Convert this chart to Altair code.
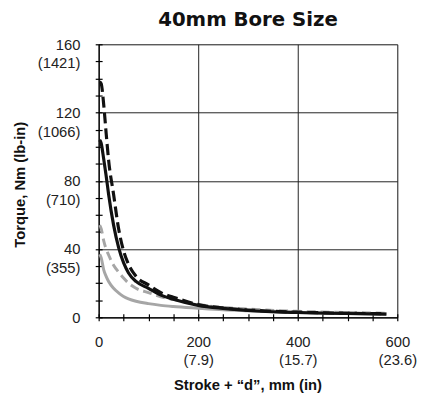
import altair as alt
import pandas as pd

# ---- data ----
stroke = [2, 5, 10, 15, 20, 30, 40, 50, 60, 75, 100, 125, 150, 200, 250, 300, 400, 500, 578]
black_dashed = [138, 137, 125, 108, 92, 72, 52, 39, 31, 24, 19, 14.5, 11.8, 7.5, 5.5, 4.3, 3.0, 2.4, 2.1]
black_solid = [104, 102, 93, 83, 72, 54, 41, 32, 26, 21, 17, 13, 10.6, 7.0, 5.2, 4.0, 2.8, 2.2, 1.9]
gray_dashed = [54, 52, 45, 40, 36.5, 30.5, 26.5, 23, 20, 17, 14.5, 12, 10.5, 7.5, 5.8, 4.8, 3.5, 2.8, 2.4]
gray_solid = [37, 35, 28, 24, 21, 17, 14.3, 12.2, 10.8, 9.4, 8.0, 7.0, 6.3, 5.3, 4.4, 3.8, 2.8, 2.2, 1.9]

x_ticks = [0, 200, 400, 600]
x_sub = ["", "(7.9)", "(15.7)", "(23.6)"]
y_ticks = [0, 40, 80, 120, 160]
y_sub = ["", "(355)", "(710)", "(1066)", "(1421)"]
x_minor = list(range(0, 601, 50))
y_minor = list(range(0, 161, 10))

LABEL_FONT = "Liberation Sans"


def label_expr(ticks, subs):
    expr = "[datum.label]"
    for t, s in zip(ticks, subs):
        if s:
            expr = f"datum.value == {t} ? [datum.label, '{s}'] : ({expr})"
    return expr


def frame(vals):
    return pd.DataFrame({"x": stroke, "y": vals})


xs = alt.Scale(domain=[0, 600], nice=False)
ys = alt.Scale(domain=[0, 160], nice=False)

main_x_axis = alt.Axis(
    values=x_ticks, labelExpr=label_expr(x_ticks, x_sub), grid=True, gridColor="#222",
    gridWidth=1, gridOpacity=1, ticks=False, domainColor="#000", domainWidth=1.2,
    labelFont=LABEL_FONT, labelFontSize=15, labelColor="#222", labelPadding=18,
    labelLineHeight=18, labelOverlap=False, labelFlush=False, labelBound=False,
    title="Stroke + \u201cd\u201d, mm (in)", titleFont=LABEL_FONT, titleFontSize=15,
    titleFontWeight="bold", titleColor="#111", titleX=151, titleY=68, titleBaseline="middle",
    orient="bottom",
)
main_y_axis = alt.Axis(
    values=y_ticks, labelExpr=label_expr(y_ticks, y_sub), grid=True, gridColor="#222",
    gridWidth=1, gridOpacity=1, ticks=False, domainColor="#000", domainWidth=1.2,
    labelFont=LABEL_FONT, labelFontSize=15, labelColor="#222", labelPadding=19,
    labelLineHeight=19, labelBaseline="middle", labelAlign="right",
    labelOverlap=False, labelFlush=False, labelBound=False,
    title="Torque, Nm (lb-in)", titleFont=LABEL_FONT, titleFontSize=15,
    titleFontWeight="bold", titleColor="#111", titleX=-80, titleY=142, titleBaseline="middle",
    titleAngle=-90, titleAnchor="middle", titleAlign="center",
    orient="left",
)
tick_x_axis = alt.Axis(
    values=x_minor, ticks=True, tickSize=7, tickColor="#000", tickWidth=1.2, offset=-3.5,
    domain=False, labels=False, grid=False, title=None, orient="bottom",
)
tick_y_axis = alt.Axis(
    values=y_minor, ticks=True, tickSize=7, tickColor="#000", tickWidth=1.2, offset=-3.5,
    domain=False, labels=False, grid=False, title=None, orient="left",
)

gs = alt.Chart(frame(gray_solid)).mark_line(color="#a6a6a6", strokeWidth=3, interpolate="monotone").encode(
    x=alt.X("x:Q", scale=xs, axis=main_x_axis),
    y=alt.Y("y:Q", scale=ys, axis=main_y_axis),
)
gd = alt.Chart(frame(gray_dashed)).mark_line(
    color="#a6a6a6", strokeWidth=3, strokeDash=[9, 5], interpolate="monotone"
).encode(
    x=alt.X("x:Q", scale=xs, axis=tick_x_axis),
    y=alt.Y("y:Q", scale=ys, axis=tick_y_axis),
)
bs = alt.Chart(frame(black_solid)).mark_line(color="#111", strokeWidth=3.2, interpolate="monotone").encode(
    x=alt.X("x:Q", scale=xs, axis=None),
    y=alt.Y("y:Q", scale=ys, axis=None),
)
bd = alt.Chart(frame(black_dashed)).mark_line(
    color="#111", strokeWidth=3.2, strokeDash=[11, 5], interpolate="monotone"
).encode(
    x=alt.X("x:Q", scale=xs, axis=None),
    y=alt.Y("y:Q", scale=ys, axis=None),
)

chart = (
    alt.layer(gs, gd, bs, bd)
    .resolve_axis(x="independent", y="independent")
    .properties(
        width=303,
        height=277,
        autosize=alt.AutoSizeParams(type="none"),
        padding={"left": 92, "top": 34, "right": 20, "bottom": 75},
        title=alt.TitleParams(
            "40mm Bore Size", font="DejaVu Sans", fontSize=20, fontWeight="bold",
            color="#111", anchor="middle", offset=8,
        ),
    )
    .configure_view(stroke="#000", strokeWidth=1.2)
    .configure(background="white")
)

chart.save("out.html", embed_options={"renderer": "svg", "actions": False})
